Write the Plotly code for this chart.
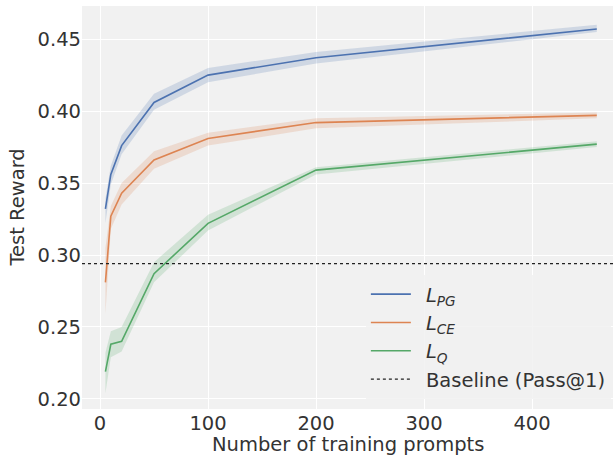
import plotly.graph_objects as go

x_prompts = [5, 10, 20, 50, 100, 200, 460]

pg_mean = [0.332, 0.356, 0.376, 0.406, 0.425, 0.437, 0.457]
pg_low = [0.322, 0.349, 0.370, 0.401, 0.420, 0.433, 0.455]
pg_high = [0.339, 0.362, 0.383, 0.412, 0.430, 0.441, 0.460]

ce_mean = [0.281, 0.327, 0.343, 0.366, 0.381, 0.392, 0.397]
ce_low = [0.259, 0.318, 0.335, 0.360, 0.376, 0.388, 0.395]
ce_high = [0.305, 0.334, 0.350, 0.372, 0.385, 0.395, 0.399]

q_mean = [0.219, 0.238, 0.240, 0.287, 0.322, 0.359, 0.377]
q_low = [0.204, 0.229, 0.233, 0.281, 0.317, 0.356, 0.375]
q_high = [0.232, 0.247, 0.250, 0.295, 0.328, 0.361, 0.379]

baseline = 0.294

x_ticks = [0, 100, 200, 300, 400]
y_ticks = [0.20, 0.25, 0.30, 0.35, 0.40, 0.45]

PAD = "&nbsp;\u2009"
series = [
    (PAD + "<i>L<sub>PG</sub></i>", pg_mean, pg_low, pg_high, "#4C72B0", "rgba(76,114,176,0.2)"),
    (PAD + "<i>L<sub>CE</sub></i>", ce_mean, ce_low, ce_high, "#DD8452", "rgba(221,132,82,0.2)"),
    (PAD + "<i>L<sub>Q</sub></i>", q_mean, q_low, q_high, "#55A868", "rgba(85,168,104,0.2)"),
]

X_RANGE = [-16.7, 475]

fig = go.Figure()
for name, m, lo, hi, col, fill in series:
    fig.add_trace(go.Scatter(
        x=x_prompts + x_prompts[::-1], y=hi + lo[::-1],
        fill="toself", fillcolor=fill, line=dict(width=0),
        hoverinfo="skip", showlegend=False, mode="lines"))
for name, m, lo, hi, col, fill in series:
    fig.add_trace(go.Scatter(
        x=x_prompts, y=m, mode="lines", name=name,
        line=dict(color=col, width=1.6)))

fig.add_trace(go.Scatter(
    x=X_RANGE, y=[baseline, baseline], mode="lines",
    name=PAD + "Baseline (Pass@1)",
    line=dict(color="#222222", width=1.3, dash="dot")))

font_family = "DejaVu Sans"
TXT = "#333333"
FS = 19.5
fig.update_layout(
    width=613, height=455,
    margin=dict(l=82, r=0, t=6, b=46, autoexpand=False),
    paper_bgcolor="white",
    plot_bgcolor="#f1f1f1",
    font=dict(family=font_family, size=FS, color=TXT),
    xaxis=dict(
        range=X_RANGE, automargin=False,
        tickvals=x_ticks,
        showgrid=True, gridcolor="white", gridwidth=1,
        zeroline=False, showline=False, ticks="",
        tickfont=dict(size=FS, color=TXT),
    ),
    yaxis=dict(
        range=[0.193, 0.473], automargin=False,
        tickvals=y_ticks,
        tickformat=".2f",
        showgrid=True, gridcolor="white", gridwidth=1,
        zeroline=False, showline=False, ticks="",
        tickfont=dict(size=FS, color=TXT),
    ),
    legend=dict(
        x=0.996, y=0.025, xanchor="right", yanchor="bottom",
        bgcolor="rgba(241,241,241,0.85)",
        font=dict(size=FS, color=TXT),
        itemwidth=40, tracegroupgap=0,
    ),
    showlegend=True,
    annotations=[
        dict(text="Number of training prompts", xref="paper", yref="paper",
             x=0.5, y=0, yanchor="top", xanchor="center", yshift=-22,
             showarrow=False, font=dict(size=FS, color=TXT)),
        dict(text="Test Reward", xref="paper", yref="paper",
             x=0, y=0.5, xanchor="center", yanchor="middle", xshift=-65,
             textangle=-90, showarrow=False, font=dict(size=FS, color=TXT)),
    ],
)

fig.write_html(
    "out.html",
    config={"displayModeBar": False},
    post_script="document.body.style.margin='0';document.body.style.overflow='hidden';",
)
